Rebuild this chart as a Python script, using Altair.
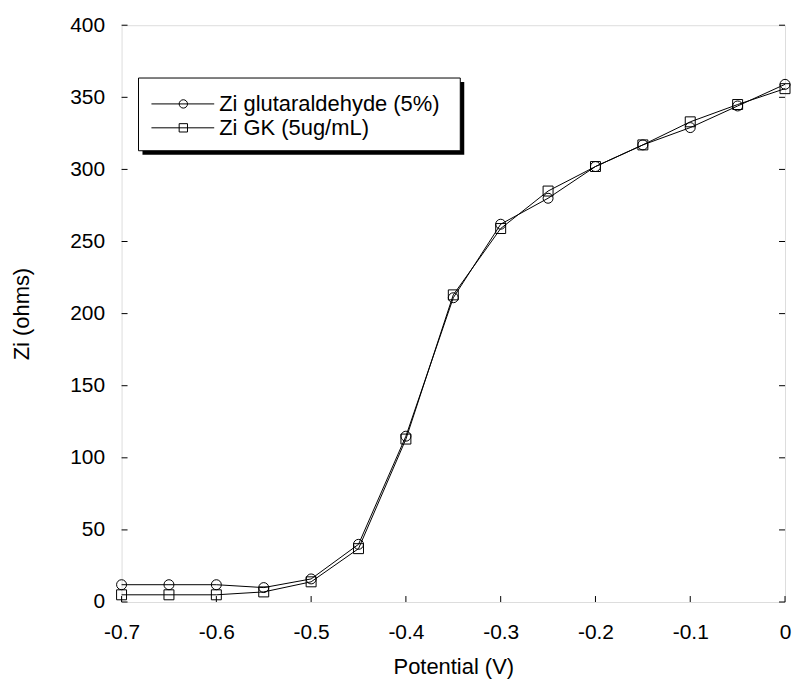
import altair as alt
import pandas as pd

potential = [-0.7, -0.65, -0.6, -0.55, -0.5, -0.45, -0.4, -0.35, -0.3, -0.25, -0.2, -0.15, -0.1, -0.05, 0.0]
zi_glut = [12, 12, 12, 10, 16, 40, 115, 211, 262, 280, 302, 317, 329, 344, 359]
zi_gk = [5, 5, 5, 7, 14, 37, 113, 213, 259, 285, 302, 317, 333, 345, 356]
series_names = ["Zi glutaraldehyde (5%)", "Zi GK (5ug/mL)"]
series_shapes = ["circle", "square"]
x_ticks = [-0.7, -0.6, -0.5, -0.4, -0.3, -0.2, -0.1, 0.0]
y_ticks = [0, 50, 100, 150, 200, 250, 300, 350, 400]

W, H = 666, 579
FONT = "Liberation Sans"
LFS = 21   # tick labels
TFS = 22   # titles / legend

rows = []
for name, vals in zip(series_names, [zi_glut, zi_gk]):
    for p, v in zip(potential, vals):
        rows.append({"Potential": p, "Zi": v, "Series": name})
df = pd.DataFrame(rows)

xscale = alt.Scale(domain=[-0.7, 0], nice=False, zero=False)
yscale = alt.Scale(domain=[0, 400], nice=False)

x_enc = alt.X("Potential:Q", scale=xscale, title="Potential (V)",
              axis=alt.Axis(values=x_ticks, ticks=False, domain=False, grid=False, labelFlush=False,
                            labelExpr="datum.value == 0 ? '0' : '-' + format(abs(datum.value), '.1f')",
                            labelFont=FONT, labelFontSize=LFS, labelColor="black", labelPadding=20,
                            titleFont=FONT, titleFontSize=TFS, titleFontWeight="normal", titleColor="black",
                            titlePadding=14))
y_enc = alt.Y("Zi:Q", scale=yscale, title="Zi (ohms)",
              axis=alt.Axis(values=y_ticks, ticks=False, domain=False, grid=False, labelFlush=False,
                            labelFont=FONT, labelFontSize=LFS, labelColor="black", labelPadding=17,
                            titleFont=FONT, titleFontSize=TFS, titleFontWeight="normal", titleColor="black",
                            titlePadding=36))

shape_scale = alt.Scale(domain=series_names, range=series_shapes)

lines = alt.Chart(df).mark_line(color="black", strokeWidth=1).encode(
    x=x_enc, y=y_enc, detail="Series:N")
points = alt.Chart(df).mark_point(color="black", filled=False, strokeWidth=1, size=100, opacity=1).encode(
    x="Potential:Q", y="Zi:Q", shape=alt.Shape("Series:N", scale=shape_scale, legend=None))

# inward ticks
xt = pd.DataFrame({"t": x_ticks})
yt = pd.DataFrame({"t": y_ticks})
bottom_ticks = alt.Chart(xt).mark_rule(color="black", strokeWidth=1).encode(
    x=alt.X("t:Q", scale=xscale), y=alt.value(H), y2=alt.value(H - 6))
left_ticks = alt.Chart(yt).mark_rule(color="black", strokeWidth=1).encode(
    y=alt.Y("t:Q", scale=yscale), x=alt.value(0), x2=alt.value(6))
right_ticks = alt.Chart(yt).mark_rule(color="black", strokeWidth=1).encode(
    y=alt.Y("t:Q", scale=yscale), x=alt.value(W), x2=alt.value(W - 6))

# legend box (layout in pixels)
box_df = pd.DataFrame({"k": [0]})
shadow = alt.Chart(box_df).mark_rect(color="black").encode(
    x=alt.value(21), x2=alt.value(344), y=alt.value(57), y2=alt.value(130))
box = alt.Chart(box_df).mark_rect(fill="white", stroke="black", strokeWidth=1).encode(
    x=alt.value(17), x2=alt.value(340), y=alt.value(53), y2=alt.value(126))
legend_parts = [shadow, box]
for i, (name, shp) in enumerate(zip(series_names, series_shapes)):
    ry = 79 + 24 * i
    legend_parts.append(alt.Chart(box_df).mark_rule(color="black", strokeWidth=1).encode(
        y=alt.value(ry), x=alt.value(30), x2=alt.value(93)))
    legend_parts.append(alt.Chart(box_df).mark_point(color="black", filled=False, strokeWidth=1, size=70,
                                                     opacity=1, shape=shp).encode(
        y=alt.value(ry), x=alt.value(62)))
    legend_parts.append(alt.Chart(box_df).mark_text(align="left", baseline="middle", font=FONT, fontSize=TFS,
                                                    color="black", text=name).encode(
        y=alt.value(ry), x=alt.value(98)))

chart = alt.layer(
    lines, points, bottom_ticks, left_ticks, right_ticks, *legend_parts
).properties(
    width=W, height=H, padding={"left": 2, "top": 5, "right": 0, "bottom": 0}
).configure_view(stroke="black", strokeWidth=1).configure(background="white")

chart.save("out.html", embed_options={"renderer": "svg", "actions": False})
